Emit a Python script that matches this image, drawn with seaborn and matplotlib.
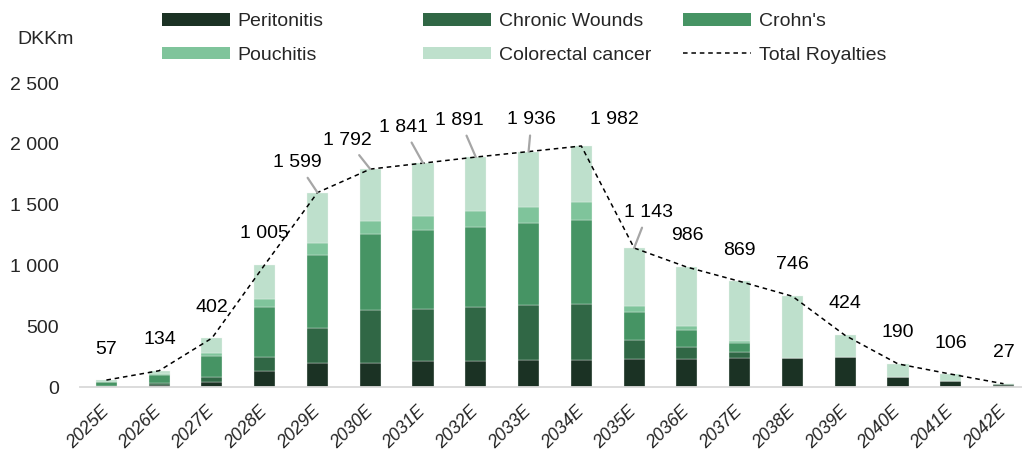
import matplotlib

matplotlib.use("Agg")
import matplotlib.pyplot as plt
import numpy as np
import seaborn as sns
from matplotlib.lines import Line2D
from matplotlib.patches import Patch

# --- data (DKKm) ---
years = ["2025E", "2026E", "2027E", "2028E", "2029E", "2030E", "2031E", "2032E", "2033E",
         "2034E", "2035E", "2036E", "2037E", "2038E", "2039E", "2040E", "2041E", "2042E"]
peritonitis = [3, 14, 45, 135, 201, 201, 211, 212, 218, 218, 227, 232, 236, 242, 248, 79, 50, 18]
chronic_wounds = [5, 19, 34, 108, 282, 432, 427, 444, 456, 468, 160, 95, 50, 0, 0, 0, 0, 9]
crohns = [30, 62, 174, 415, 604, 625, 651, 661, 675, 687, 229, 142, 73, 0, 0, 0, 0, 0]
pouchitis = [5, 8, 28, 64, 99, 104, 116, 130, 135, 149, 47, 30, 16, 0, 0, 0, 0, 0]
colorectal = [14, 31, 121, 283, 413, 430, 436, 444, 452, 460, 480, 487, 494, 504, 176, 111, 56, 0]
total_royalties = [57, 134, 402, 1005, 1599, 1792, 1841, 1891, 1936, 1982,
                   1143, 986, 869, 746, 424, 190, 106, 27]

series = [
    ("Peritonitis", peritonitis, "#1b3224"),
    ("Chronic Wounds", chronic_wounds, "#306745"),
    ("Crohn's", crohns, "#469464"),
    ("Pouchitis", pouchitis, "#7fc49b"),
    ("Colorectal cancer", colorectal, "#bee0cc"),
]

# label placement (pixel offsets from bar top) and which labels get a leader line
label_offsets = [(0, 31), (1, 31), (0, 31), (0, 31), (-20, 30), (-23, 29), (-20, 36),
                 (-16, 37), (3, 32), (33, 26), (14, 36), (0, 32), (0, 31), (0, 32),
                 (0, 32), (0, 31), (0, 31), (0, 31)]
leaders = [False, False, False, False, True, True, True, True, True, False, True,
           False, False, False, False, False, False, False]

sns.set_style("white")
plt.rcParams["font.family"] = ["Liberation Sans", "DejaVu Sans"]

FS = 14
DASH = (0, (3, 2.5))

fig = plt.figure(figsize=(10.22, 4.5), dpi=100)
ax = fig.add_axes([80 / 1022, 1 - 387 / 450, 942 / 1022, 304 / 450])

x = np.arange(len(years))
bottom = np.zeros(len(years))
for name, vals, color in series:
    ax.bar(x, vals, width=0.4, bottom=bottom, color=color, edgecolor="#eef6f1",
           linewidth=0.25, label=name)
    bottom += np.array(vals)

sns.lineplot(x=x, y=bottom, ax=ax, color="black", linewidth=1.1, linestyle=DASH,
             legend=False)

for i, (tot, (dx, dy), lead) in enumerate(zip(total_royalties, label_offsets, leaders)):
    kw = {}
    if lead:
        kw["arrowprops"] = dict(arrowstyle="-", color="#a6a6a6", lw=1.6,
                                shrinkA=3, shrinkB=0)
    ax.annotate(f"{tot:,}".replace(",", " "), xy=(i, tot), xytext=(dx, dy),
                textcoords="offset pixels", ha="center", va="center",
                fontsize=FS, color="black", **kw)

ax.set_xlim(-0.5, 17.35)
ax.set_ylim(0, 2500)
ax.set_yticks(range(0, 2501, 500))
ax.set_yticklabels([f"{v:,}".replace(",", " ") for v in range(0, 2501, 500)])
ax.set_xticks(x)
ax.set_xticklabels(years, rotation=45, ha="right", va="center",
                   rotation_mode="anchor", fontstyle="italic", fontsize=13)
ax.set_xticks(np.arange(-0.5, 17.5, 1), minor=True)
ax.tick_params(axis="x", which="major", length=0, pad=16)
ax.tick_params(axis="x", which="minor", length=6, color="#d9d9d9", width=1.2,
               direction="out")
ax.tick_params(axis="y", length=0, pad=15, labelsize=FS)

for side in ["top", "right", "left"]:
    ax.spines[side].set_visible(False)
ax.spines["bottom"].set_color("#d9d9d9")
ax.spines["bottom"].set_linewidth(1.3)

fig.text(17 / 1022, 1 - 40 / 450, "DKKm", ha="left", va="center", fontsize=FS)

# legend laid out as a fixed 3x2 grid
handles = [Patch(facecolor=c, edgecolor="none", label=n) for n, _, c in series]
handles.append(Line2D([], [], color="black", linewidth=1.1, linestyle=DASH,
                      label="Total Royalties"))
columns = [(handles[0], handles[3]), (handles[1], handles[4]), (handles[2], handles[5])]
col_left = [162, 423, 683]
for hs, left in zip(columns, col_left):
    fig.legend(handles=list(hs), loc="upper left",
               bbox_to_anchor=(left / 1022, 1 - 13 / 450), frameon=False,
               fontsize=FS, handlelength=3.5, handleheight=0.62,
               handletextpad=0.4, labelspacing=0.85, borderpad=0, borderaxespad=0)

fig.savefig("out.png", dpi=100)
